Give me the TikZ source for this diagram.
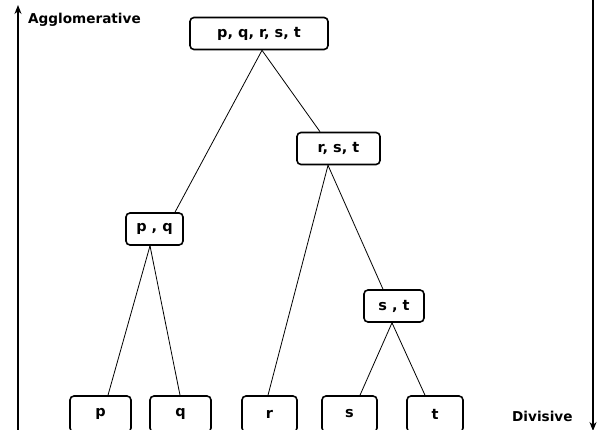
\documentclass[tikz,border=0pt]{standalone}
\usepackage{fontspec}
\setmainfont{DejaVu Sans}
\usetikzlibrary{arrows.meta}

\begin{document}
\begin{tikzpicture}[x=1pt,y=-1pt,
		cluster/.style={draw,rounded corners=4pt,line width=1.6pt,minimum height=32pt,inner sep=0pt,font=\fontsize{14.5}{17}\selectfont\bfseries},
		leaf/.style={cluster,minimum height=36pt},
		label/.style={anchor=west,inner sep=0pt,font=\fontsize{13.6}{16}\selectfont\bfseries}]
		\useasboundingbox (0,0) rectangle (597,430);
		% tree
		\node[cluster,minimum width=138pt] (all) at (259,33.5) {p, q, r, s, t};
		\node[cluster,minimum width=83pt] (rst) at (338.5,148.5) {r, s, t};
		\node[cluster,minimum width=57pt] (pq) at (154.5,229) {p , q};
		\node[cluster,minimum width=60pt] (st) at (394,306) {s , t};
		\node[leaf,minimum width=61pt] (p) at (100.5,414) {p};
		\node[leaf,minimum width=61pt] (q) at (180.5,414) {q};
		\node[leaf,minimum width=55pt] (r) at (269.5,414) {r};
		\node[leaf,minimum width=55pt] (s) at (349.5,414) {s};
		\node[leaf,minimum width=56pt] (t) at (435,414) {t};
		\path[line width=0.8pt]
		([xshift=3pt]all.south) edge ([xshift=20.5pt]pq.north)
		edge ([xshift=-18.5pt]rst.north)
		([xshift=-4.5pt]pq.south) edge ([xshift=7.5pt]p.north)
		edge ([xshift=-0.5pt]q.north)
		([xshift=-10.5pt]rst.south) edge ([xshift=-1.5pt]r.north)
		edge ([xshift=-11pt]st.north)
		([xshift=-2pt]st.south) edge ([xshift=10.5pt]s.north)
		edge ([xshift=-10pt]t.north);
		% direction arrows
		\coordinate (agg0) at (18,432);
		\coordinate (agg1) at (18,5);
		\coordinate (div0) at (593,-2);
		\coordinate (div1) at (593,431);
		\draw[-{Stealth[length=9pt,width=7pt]},line width=1.2pt] (agg0) -- (agg1);
		\draw[-{Stealth[length=9pt,width=7pt]},line width=1.2pt] (div0) -- (div1);
		\node[label] (agglo) at (28,20) {Agglomerative};
		\node[label] (divis) at (512,416) {Divisive};
\end{tikzpicture}
\end{document}
